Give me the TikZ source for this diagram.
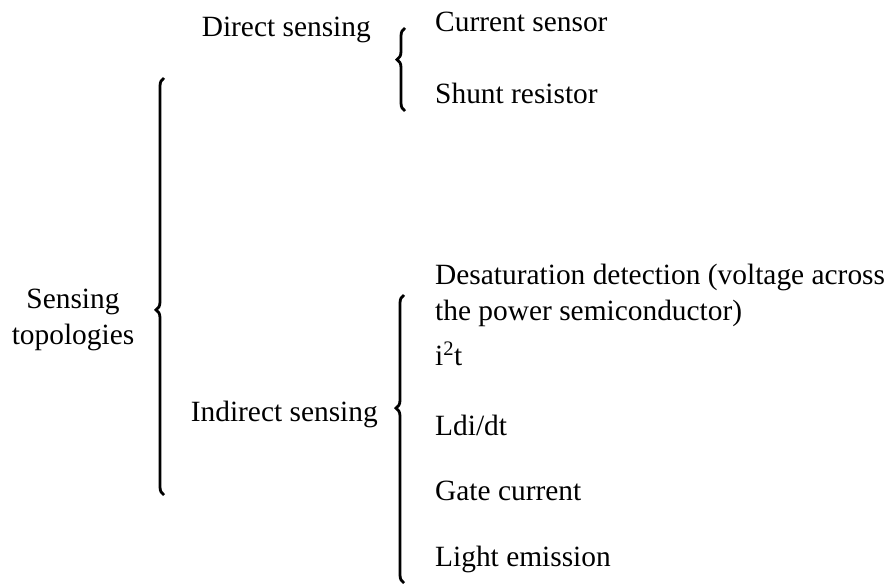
\documentclass[tikz,border=0pt]{standalone}
\usepackage{fontspec}
\setmainfont{Liberation Serif}
\usepackage{tikz}
\usetikzlibrary{decorations.pathreplacing,positioning}

\begin{document}
\begin{tikzpicture}[x=1pt,y=-1pt,
 every node/.style={font=\fontsize{29.4}{36}\selectfont,inner sep=0pt},
 item/.style={anchor=base west},
 group/.style={anchor=base east},
 cbrace/.style={decorate,line width=2.8pt,
  decoration={brace,amplitude=8pt,aspect=#1}}]
 \useasboundingbox (0,0) rectangle (888,586);
 % root
 \node[align=center] (root) at (73,320) {Sensing\\topologies};
 % second level
 \node[group] (dir) at (371,37) {Direct sensing};
 \node[group] (ind) at (378,421) {Indirect sensing};
 % leaves
 \node[item] (cur) at (435,32) {Current sensor};
 \node[item] (shu) at (435,103) {Shunt resistor};
 \node[item] (des) at (435,284) {Desaturation detection (voltage across};
 \node[item] (des2) at (435,320) {the power semiconductor)};
 \node[item] (iit) at (435,365) {i\textsuperscript{2}t};
 \node[item] (ldi) at (435,435) {Ldi/dt};
 \node[item] (gat) at (435,500) {Gate current};
 \node[item] (lig) at (435,566) {Light emission};
 % braces
 \coordinate (rootb) at (164,495);
 \coordinate (roott) at (164,78);
 \coordinate (dirb) at (405,111);
 \coordinate (dirt) at (405,28);
 \coordinate (indb) at (404,583);
 \coordinate (indt) at (404,295);
 \draw[cbrace=0.444] (rootb) -- (roott);
 \draw[cbrace=0.62] (dirb) -- (dirt);
 \draw[cbrace=0.607] (indb) -- (indt);
\end{tikzpicture}
\end{document}
